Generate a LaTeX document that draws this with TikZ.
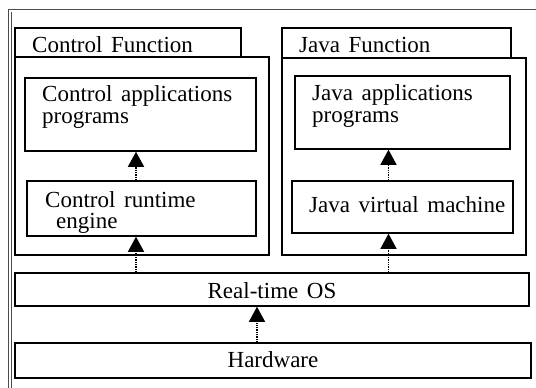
\documentclass[tikz,border=0pt]{standalone}
\usepackage{fontspec}
\setmainfont{Liberation Serif}[WordSpace=1.5]
\usetikzlibrary{arrows.meta,positioning,fit}

\begin{document}
\begin{tikzpicture}
  [x=1pt,y=-1pt,
  box/.style={draw,line width=1.5pt,inner sep=0pt},
  txt/.style={anchor=base west,inner sep=0pt,font=\fontsize{23}{25}\selectfont},
  edge/.style={densely dotted,line width=1.3pt,-{Triangle[width=16pt,length=15pt]}}
  ]
  \useasboundingbox (0,0) rectangle (536,388);
  % outer frame
  \draw[line width=1pt,black!70] (8,388) -- (8,9) -- (536,9);
  \draw[line width=1pt,black!70] (11,388) -- (11,12);
  % control side
  \node[box,fit={(15,28) (241,57)}] (ctab) {};
  \node[box,fit={(15,57) (269,255)}] (ctrl) {};
  \node[box,fit={(25,78) (256,151)}] (capp) {};
  \node[box,fit={(27,181) (256,236)}] (crte) {};
  % java side
  \node[box,fit={(282,28) (511,58)}] (jtab) {};
  \node[box,fit={(282,58) (526,255)}] (java) {};
  \node[box,fit={(295,76) (510,149)}] (japp) {};
  \node[box,fit={(292,181) (513,233)}] (jvm) {};
  % lower layers
  \node[box,fit={(15,273) (529,306)}] (rtos) {};
  \node[box,fit={(15,343) (531,378)}] (hw) {};
  % texts
  \node[txt] (tctab) at (32,52) {Control Function};
  \node[txt] (tjtab) at (299,52) {Java Function};
  \node[txt] (tcapp) at (42,101) {Control applications};
  \node[txt] (tcapp2) at (42,123) {programs};
  \node[txt] (tjapp) at (312,100) {Java applications};
  \node[txt] (tjapp2) at (312,122) {programs};
  \node[txt] (tcrte) at (45,207) {Control runtime};
  \node[txt] (tcrte2) at (56,228) {engine};
  \node[txt] (tjvm) at (309,212) {Java virtual machine};
  \node[anchor=base,inner sep=0pt,font=\fontsize{23}{25}\selectfont] (trtos) at (272,298) {Real-time OS};
  \node[anchor=base,inner sep=0pt,font=\fontsize{23}{25}\selectfont] (thw) at (273,367) {Hardware};
  % arrows
  \coordinate (ca) at (136,0);
  \coordinate (ja) at (388.5,0);
  \coordinate (ha) at (257,0);
  \draw[edge] (crte.north -| ca) -- (capp.south -| ca);
  \draw[edge] (rtos.north -| ca) -- (crte.south -| ca);
  \draw[edge] (jvm.north -| ja) -- (japp.south -| ja);
  \draw[edge] (rtos.north -| ja) -- (jvm.south -| ja);
  \draw[edge] (hw.north -| ha) -- (rtos.south -| ha);
\end{tikzpicture}
\end{document}
